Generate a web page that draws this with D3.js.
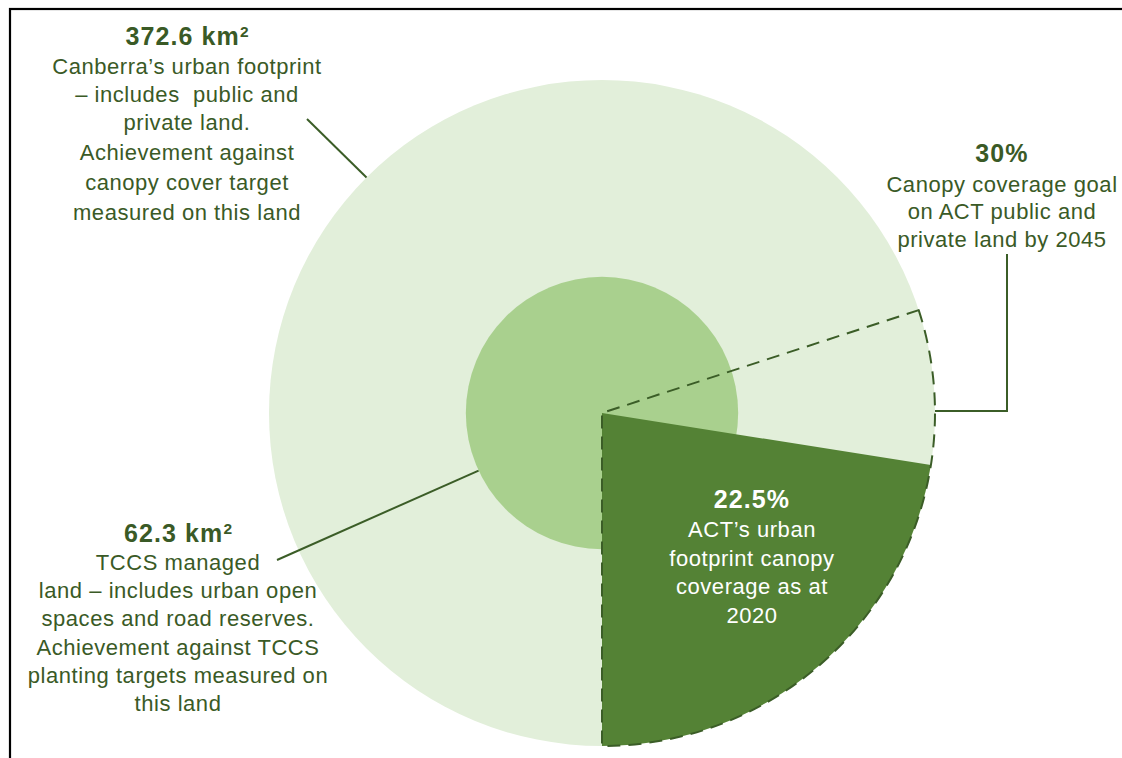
<!DOCTYPE html>
<html>
<head>
<meta charset="utf-8">
<script src="https://cdn.jsdelivr.net/npm/d3@7"></script>
<style>
  html, body { margin: 0; padding: 0; background: #ffffff; }
  svg { display: block; }
  text { font-family: "Liberation Sans", Arial, sans-serif; white-space: pre; }
</style>
</head>
<body>
<svg id="chart" width="1122" height="758"></svg>
<script>
// Land areas (km²): the whole urban footprint and the TCCS-managed part of it
const regions = ["Canberra's urban footprint", "TCCS managed land"];
const regionAreaKm2 = [372.6, 62.3];

// Canopy cover shares of the urban footprint (%)
const canopyMeasures = ["Canopy coverage 2020", "Canopy coverage goal 2045"];
const canopyPercent = [22.5, 30];

// Annotation text
const footprintLines = ["Canberra\u2019s urban footprint", "\u2013 includes  public and", "private land.",
  "Achievement against", "canopy cover target", "measured on this land"];
const tccsLines = ["TCCS managed", "land \u2013 includes urban open", "spaces and road reserves.",
  "Achievement against TCCS", "planting targets measured on", "this land"];
const goalLines = ["Canopy coverage goal", "on ACT public and", "private land by 2045"];
const currentLines = ["ACT\u2019s urban", "footprint canopy", "coverage as at", "2020"];

const colors = {
  footprint: "#e2efda",
  tccs: "#a9d08e",
  canopy: "#548235",
  ink: "#3a5a26",
  line: "#3b5d27"
};

const svg = d3.select("#chart");
const cx = 602, cy = 413, R = 333;

// Circle area is proportional to land area
const rScale = d3.scaleSqrt().domain([0, regionAreaKm2[0]]).range([0, R]);
// Share of the footprint maps to an angular sweep
const aScale = d3.scaleLinear().domain([0, 100]).range([0, 2 * Math.PI]);

// Frame
svg.append("rect")
  .attr("x", 10).attr("y", 9).attr("width", 1300).attr("height", 1000)
  .attr("fill", "none").attr("stroke", "#000").attr("stroke-width", 2.2);

const g = svg.append("g").attr("transform", `translate(${cx},${cy})`);

// Urban footprint and TCCS land as nested discs
g.selectAll("circle.region")
  .data(regionAreaKm2)
  .join("circle")
  .attr("class", "region")
  .attr("r", d => rScale(d))
  .attr("fill", (d, i) => i === 0 ? colors.footprint : colors.tccs);

// Canopy wedges measured clockwise back from the six o'clock position
const wedge = d3.arc().innerRadius(0).outerRadius(rScale(regionAreaKm2[0]));
const wedgeOf = p => ({ startAngle: Math.PI - aScale(p), endAngle: Math.PI });

// Current canopy cover (filled)
g.append("path")
  .attr("d", wedge(wedgeOf(canopyPercent[0])))
  .attr("fill", colors.canopy);

// Goal canopy cover (dashed outline)
g.append("path")
  .attr("d", wedge(wedgeOf(canopyPercent[1])))
  .attr("fill", "none")
  .attr("stroke", colors.line)
  .attr("stroke-width", 2)
  .attr("stroke-dasharray", "13,8")
  .attr("stroke-linejoin", "round");

// Point on a circle of radius r at angle a (clockwise from twelve o'clock)
const polar = (r, a) => [cx + r * Math.sin(a), cy - r * Math.cos(a)];

// Leader lines
const leader = d3.line();
const outerR = rScale(regionAreaKm2[0]);
const innerR = rScale(regionAreaKm2[1]);
svg.append("path")
  .attr("d", leader([[307, 119], polar(outerR, -Math.PI / 4)]))
  .attr("fill", "none").attr("stroke", colors.line).attr("stroke-width", 2);
svg.append("path")
  .attr("d", leader([[277, 560], polar(innerR, 245 * Math.PI / 180)]))
  .attr("fill", "none").attr("stroke", colors.line).attr("stroke-width", 2);
const goalAnchor = polar(outerR, Math.PI / 2);
svg.append("path")
  .attr("d", leader([[goalAnchor[0], goalAnchor[1] - 2], [1007, goalAnchor[1] - 2], [1007, 254]]))
  .attr("fill", "none").attr("stroke", colors.line).attr("stroke-width", 2);

// Text blocks
function block(x, titleY, value, unitSup, lines, lineY, color) {
  const head = svg.append("text")
    .attr("x", x).attr("y", titleY)
    .attr("text-anchor", "middle")
    .attr("fill", color)
    .attr("font-weight", "bold")
    .attr("font-size", 25)
    .attr("letter-spacing", 1.1);
  head.append("tspan").text(value);
  if (unitSup) {
    head.append("tspan").attr("font-size", 15.5).attr("dy", -8).attr("letter-spacing", 0).text(unitSup);
  }
  svg.append("g").selectAll("text")
    .data(lines)
    .join("text")
    .attr("x", x)
    .attr("y", (d, i) => lineY(i))
    .attr("text-anchor", "middle")
    .attr("fill", color)
    .attr("font-size", 22)
    .attr("letter-spacing", 0.55)
    .text(d => d);
}

const fmt = d3.format(".1f");
block(187, 45, `${fmt(regionAreaKm2[0])} km`, "2", footprintLines,
  i => [74, 102, 130, 160, 190, 220][i], colors.ink);
block(178, 542, `${fmt(regionAreaKm2[1])} km`, "2", tccsLines,
  i => 570 + i * 28.2, colors.ink);
block(1002, 162, `${canopyPercent[1]}%`, null, goalLines,
  i => 192 + i * 27.3, colors.ink);
block(752, 508, `${fmt(canopyPercent[0])}%`, null, currentLines,
  i => 537 + i * 28.5, "#ffffff");
</script>
</body>
</html>
